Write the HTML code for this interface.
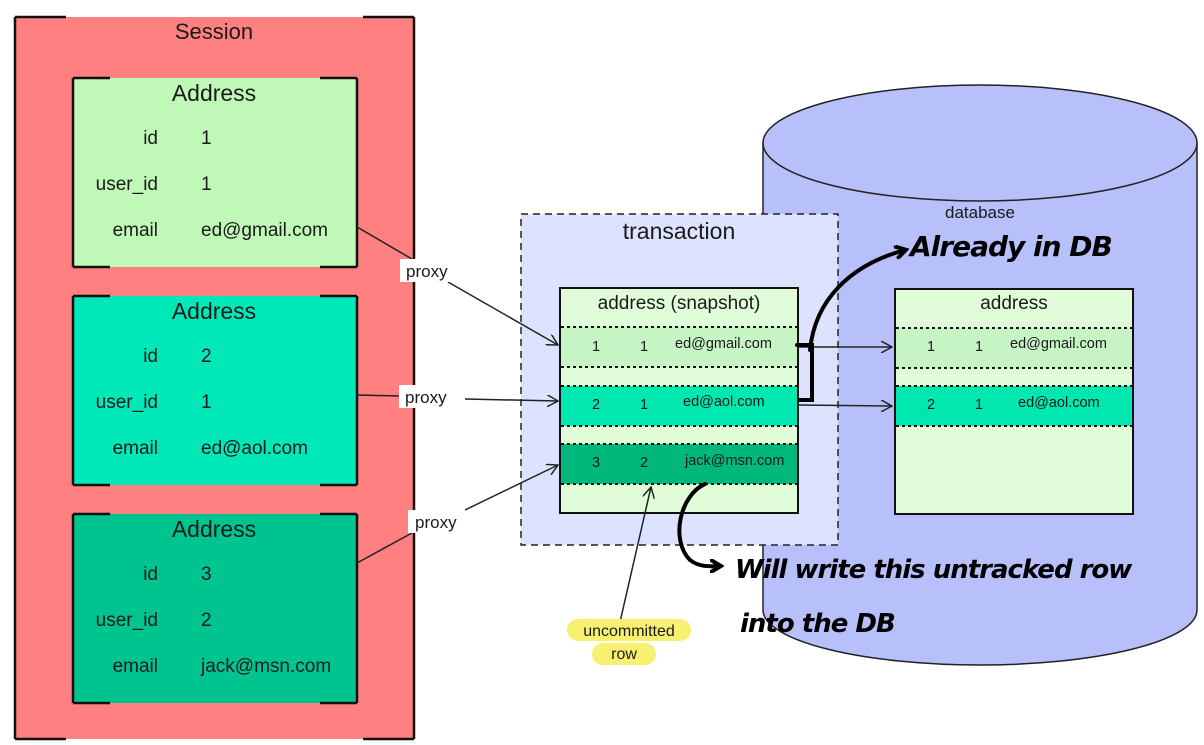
<!DOCTYPE html>
<html><head><meta charset="utf-8"><style>
html,body{margin:0;padding:0;background:#fff;width:1204px;height:745px;overflow:hidden}
svg{display:block}
text{font-family:"Liberation Sans",sans-serif;fill:#1a1a1a}
.hw{font-family:"DejaVu Sans",sans-serif;font-weight:bold;font-style:italic;fill:#000}
</style></head><body>
<svg width="1204" height="745" viewBox="0 0 1204 745" xmlns="http://www.w3.org/2000/svg">
<defs>
<marker id="a" markerWidth="12" markerHeight="12" refX="11" refY="6" orient="auto" markerUnits="userSpaceOnUse">
<path d="M0,0 L11,6 L0,12" fill="none" stroke="#222" stroke-width="1.5"/></marker>
<marker id="b" markerWidth="14" markerHeight="14" refX="10" refY="7" orient="auto" markerUnits="userSpaceOnUse">
<path d="M1,1 L11,7 L1,13" fill="none" stroke="#000" stroke-width="4" stroke-linecap="round"/></marker>
</defs>
<!-- Session -->
<rect x="15" y="17" width="399" height="722" fill="#ff8080"/>
<g stroke="#111" stroke-width="2.5" fill="none">
<line x1="15" y1="17" x2="15" y2="739"/><line x1="414" y1="17" x2="414" y2="739"/>
<line x1="15" y1="17" x2="66" y2="17"/><line x1="363" y1="17" x2="414" y2="17"/>
<line x1="15" y1="739" x2="66" y2="739"/><line x1="363" y1="739" x2="414" y2="739"/>
</g>
<text x="214" y="39" font-size="22" text-anchor="middle">Session</text>
<!-- Address boxes -->
<g>
<rect x="73" y="78" width="284" height="189" fill="#c0f8b8"/>
<rect x="73" y="296" width="284" height="189" fill="#00e8b8"/>
<rect x="73" y="514" width="284" height="189" fill="#00c490"/>
<g stroke="#111" stroke-width="2.5" fill="none">
<path d="M73,78 V267 M357,78 V267 M73,78 H110 M320,78 H357 M73,267 H110 M320,267 H357"/>
<path d="M73,296 V485 M357,296 V485 M73,296 H110 M320,296 H357 M73,485 H110 M320,485 H357"/>
<path d="M73,514 V703 M357,514 V703 M73,514 H110 M320,514 H357 M73,703 H110 M320,703 H357"/>
</g>
<g font-size="23" text-anchor="middle"><text x="214" y="101">Address</text><text x="214" y="319">Address</text><text x="214" y="537">Address</text></g>
<g font-size="19" text-anchor="end">
<text x="158" y="144">id</text><text x="158" y="190">user_id</text><text x="158" y="236">email</text>
<text x="158" y="362">id</text><text x="158" y="408">user_id</text><text x="158" y="454">email</text>
<text x="158" y="580">id</text><text x="158" y="626">user_id</text><text x="158" y="672">email</text>
</g>
<g font-size="19">
<text x="201" y="144">1</text><text x="201" y="190">1</text><text x="201" y="236">ed@gmail.com</text>
<text x="201" y="362">2</text><text x="201" y="408">1</text><text x="201" y="454">ed@aol.com</text>
<text x="201" y="580">3</text><text x="201" y="626">2</text><text x="201" y="672">jack@msn.com</text>
</g>
</g>
<!-- Cylinder -->
<path d="M763,143 V610 A217,55 0 0 0 1197,610 V143" fill="#b8c0fc" stroke="#222" stroke-width="1.5"/>
<ellipse cx="980" cy="143" rx="217" ry="58" fill="#b8c0fc" stroke="#222" stroke-width="1.5"/>
<text x="980" y="218" font-size="17" text-anchor="middle">database</text>
<!-- Transaction -->
<rect x="521" y="214" width="317" height="331" fill="#dde3ff" stroke="#222" stroke-width="1.5" stroke-dasharray="7,5"/>
<text x="679" y="239" font-size="23" text-anchor="middle">transaction</text>
<!-- snapshot table -->
<rect x="560" y="288" width="238" height="225" fill="#e0fcd8" stroke="#111" stroke-width="2"/>
<text x="679" y="309" font-size="19" text-anchor="middle">address (snapshot)</text>
<rect x="561" y="327" width="236" height="40" fill="#c6f4c4"/>
<rect x="561" y="386" width="236" height="40" fill="#00e8b0"/>
<rect x="561" y="444" width="236" height="40" fill="#00b87c"/>
<g stroke="#111" stroke-width="2" stroke-dasharray="3,3">
<line x1="561" y1="327" x2="797" y2="327"/><line x1="561" y1="367" x2="797" y2="367"/>
<line x1="561" y1="386" x2="797" y2="386"/><line x1="561" y1="426" x2="797" y2="426"/>
<line x1="561" y1="444" x2="797" y2="444"/><line x1="561" y1="484" x2="797" y2="484"/>
</g>
<g font-size="14.5" fill="#333">
<text x="592" y="351">1</text><text x="640" y="351">1</text><text x="675" y="348">ed@gmail.com</text>
<text x="592" y="409">2</text><text x="640" y="409">1</text><text x="683" y="406">ed@aol.com</text>
<text x="592" y="467">3</text><text x="640" y="467">2</text><text x="685" y="465">jack@msn.com</text>
</g>
<!-- db table -->
<rect x="895" y="289" width="238" height="225" fill="#e0fcd8" stroke="#111" stroke-width="2"/>
<text x="1014" y="309" font-size="19" text-anchor="middle">address</text>
<rect x="896" y="328" width="236" height="40" fill="#c6f4c4"/>
<rect x="896" y="386" width="236" height="40" fill="#00e8b0"/>
<g stroke="#111" stroke-width="2" stroke-dasharray="3,3">
<line x1="896" y1="328" x2="1132" y2="328"/><line x1="896" y1="368" x2="1132" y2="368"/>
<line x1="896" y1="386" x2="1132" y2="386"/><line x1="896" y1="426" x2="1132" y2="426"/>
</g>
<g font-size="14.5" fill="#333">
<text x="927" y="351">1</text><text x="975" y="351">1</text><text x="1010" y="348">ed@gmail.com</text>
<text x="927" y="409">2</text><text x="975" y="409">1</text><text x="1018" y="407">ed@aol.com</text>
</g>
<!-- connectors -->
<g stroke="#222" stroke-width="1.5" fill="none">
<line x1="357" y1="227" x2="412" y2="259"/>
<line x1="448" y1="282" x2="558" y2="345" marker-end="url(#a)"/>
<line x1="357" y1="395" x2="400" y2="396"/>
<line x1="465" y1="399" x2="558" y2="401" marker-end="url(#a)"/>
<line x1="357" y1="563" x2="412" y2="533"/>
<line x1="465" y1="510" x2="558" y2="465" marker-end="url(#a)"/>
<line x1="798" y1="347" x2="892" y2="347" marker-end="url(#a)"/>
<line x1="798" y1="405" x2="892" y2="406" marker-end="url(#a)"/>
<line x1="620" y1="622" x2="651" y2="487" marker-end="url(#a)"/>
</g>
<!-- proxy labels -->
<g font-size="17">
<rect x="400" y="259" width="56" height="23" fill="#fff"/><text x="406" y="277">proxy</text>
<rect x="399" y="385" width="56" height="23" fill="#fff"/><text x="405" y="403">proxy</text>
<rect x="408" y="510" width="57" height="23" fill="#fff"/><text x="415" y="528">proxy</text>
</g>
<!-- uncommitted -->
<rect x="567" y="619" width="124" height="22" rx="11" fill="#f8f070"/>
<rect x="592" y="643" width="64" height="22" rx="11" fill="#f8f070"/>
<text x="629" y="636" font-size="16" text-anchor="middle">uncommitted</text>
<text x="624" y="659" font-size="16" text-anchor="middle">row</text>
<!-- handwriting -->
<g stroke="#000" stroke-width="4" fill="none" stroke-linecap="round">
<path d="M797,345 H812 V400 H799"/>
<path d="M810,350 C815,300 850,265 905,250" marker-end="url(#b)"/>
<path d="M705,484 C680,495 670,540 690,560 C700,568 712,566 720,566" marker-end="url(#b)"/>
</g>
<text class="hw" x="910" y="256" font-size="28" letter-spacing="-1">Already in DB</text>
<text class="hw" x="735" y="578" font-size="26" letter-spacing="-1">Will write this untracked row</text>
<text class="hw" x="740" y="632" font-size="26" letter-spacing="-1">into the DB</text>
</svg>
</body></html>
